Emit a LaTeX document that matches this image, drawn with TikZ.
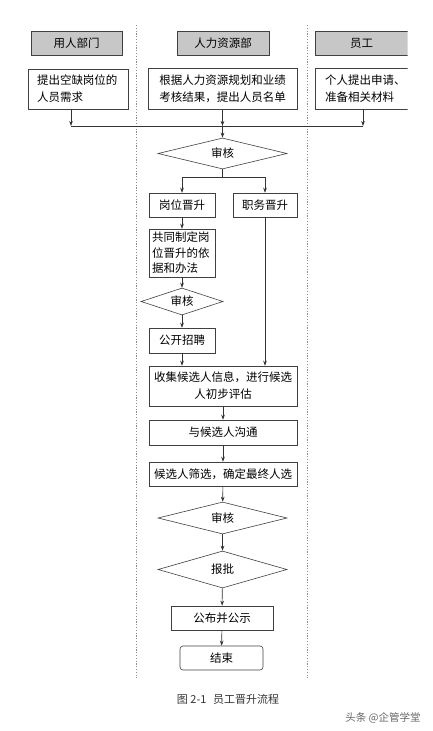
\documentclass[tikz,border=0pt]{standalone}
\usepackage{fontspec}
\setmainfont{Noto Sans CJK SC}
\usetikzlibrary{arrows.meta,shapes.geometric,positioning}

\begin{document}
\begin{tikzpicture}[x=1pt,y=-1pt,{head/.style={rectangle,draw=black!75,fill=black!22,line width=0.7pt,minimum height=24pt,inner sep=0pt,font=\fontsize{11.5}{14}\selectfont}},{place/.style={rectangle,draw=black!75,line width=0.6pt,inner sep=0pt,align=center,font=\fontsize{11.5}{17}\selectfont}},{dec/.style={diamond,draw=black!75,line width=0.6pt,inner sep=0pt,aspect=4,font=\fontsize{11.5}{14}\selectfont}},{linest/.style={draw=black!80,line width=0.6pt}},{arr/.style={linest,-{Stealth[length=5pt,width=3.6pt]}}},{lane/.style={draw=black!45,line width=0.8pt,dash pattern=on 1.2pt off 1.6pt}}]
	\useasboundingbox (0,0) rectangle (432,731);
	%%swim lanes
	\coordinate (laneAt) at (136,25);
	\coordinate (laneAb) at (136,678);
	\coordinate (laneBt) at (307,25);
	\coordinate (laneBb) at (307,678);
	\draw [lane] (laneAt) -- (laneAb);
	\draw [lane] (laneBt) -- (laneBb);
	%%lane heads and requests
	\node [head,minimum width=91pt] (hdL) at (76.5,43) {用人部门};
	\node [head,minimum width=92pt] (hdM) at (223,43) {人力资源部};
	\node [place,align=left,text width=82pt,inner xsep=9pt,minimum height=40pt] (rqL) at (78,89) {提出空缺岗位的\\人员需求};
	\node [place,minimum width=149pt,minimum height=41pt] (rqM) at (222.5,89) {根据人力资源规划和业绩\\考核结果，提出人员名单};
	\begin{scope}
		\clip (0,0) rectangle (407.6,731);
		\node [head,minimum width=93pt] (hdR) at (361.5,43) {员工};
		\node [place,align=left,text width=80pt,inner xsep=10pt,minimum height=41pt] (rqR) at (365,88.5) {个人提出申请、\\准备相关材料};
	\end{scope}
	%%main flow
	\node [dec,minimum width=129pt,minimum height=31pt] (d1) at (222.5,153.5) {审核};
	\node [place,minimum width=66pt,minimum height=24pt] (gw) at (182,205) {岗位晋升};
	\node [place,minimum width=64pt,minimum height=24pt] (zw) at (265,205) {职务晋升};
	\node [place,align=left,text width=60pt,inner xsep=3pt,minimum height=48pt,font=\fontsize{11.5}{15.5}\selectfont] (gd) at (182,253) {共同制定岗\\位晋升的依\\据和办法};
	\node [dec,minimum width=82pt,minimum height=27pt] (d2) at (182,301.5) {审核};
	\node [place,minimum width=66pt,minimum height=25pt] (gk) at (182,340.5) {公开招聘};
	\node [place,minimum width=148pt,minimum height=40pt] (sj) at (223,386) {收集候选人信息，进行候选\\人初步评估};
	\node [place,minimum width=148pt,minimum height=25pt] (gt) at (223,432.5) {与候选人沟通};
	\node [place,minimum width=148pt,minimum height=24pt] (sx) at (223,474) {候选人筛选，确定最终人选};
	\node [dec,minimum width=129pt,minimum height=32pt] (d3) at (222.5,518) {审核};
	\node [dec,minimum width=129pt,minimum height=37pt] (bp) at (222.5,569.5) {报批};
	\node [place,minimum width=102pt,minimum height=24pt] (gb) at (222,618) {公布并公示};
	\node [place,rounded corners=3pt,minimum width=83pt,minimum height=24pt] (js) at (221.5,658) {结束};
	%%caption
	\node [font=\fontsize{11}{13}\selectfont,text=black!80] (cap) at (228,699) {图 2-1\hspace{0.6em}员工晋升流程};
	\node [font=\fontsize{10.5}{12}\selectfont,text=black!60] (wm) at (383,718) {头条 @企管学堂};
	%%connectors
	\coordinate (jn) at (222.5,126);
	\coordinate (sp) at (222.5,177);
	\draw [arr] ([xshift=-7pt]rqL.south) -- ([xshift=-7pt]rqL.south |- jn);
	\draw [arr] ([xshift=-2pt]rqR.south) -- ([xshift=-2pt]rqR.south |- jn);
	\draw [arr] (rqM.south) -- (jn);
	\draw [linest] ([xshift=-7pt]rqL.south |- jn) -- ([xshift=-2pt]rqR.south |- jn);
	\draw [arr] (jn) -- (d1.north);
	\draw [linest] (d1.south) -- (sp);
	\draw [linest] (gw.north |- sp) -- (zw.north |- sp);
	\draw [arr] (gw.north |- sp) -- (gw.north);
	\draw [arr] (zw.north |- sp) -- (zw.north);
	\draw [arr] (gw) -- (gd);
	\draw [arr] (gd) -- (d2);
	\draw [arr] (d2) -- (gk);
	\draw [arr] (gk.south) -- (gk.south |- sj.north);
	\draw [arr] (zw.south) -- (zw.south |- sj.north);
	\draw [arr] (sj) -- (gt);
	\draw [arr] (gt) -- (sx);
	\draw [arr] (sx) -- (d3);
	\draw [arr] (d3) -- (bp);
	\draw [arr] (bp) -- (gb);
	\draw [arr] (gb) -- (js);
\end{tikzpicture}
\end{document}
